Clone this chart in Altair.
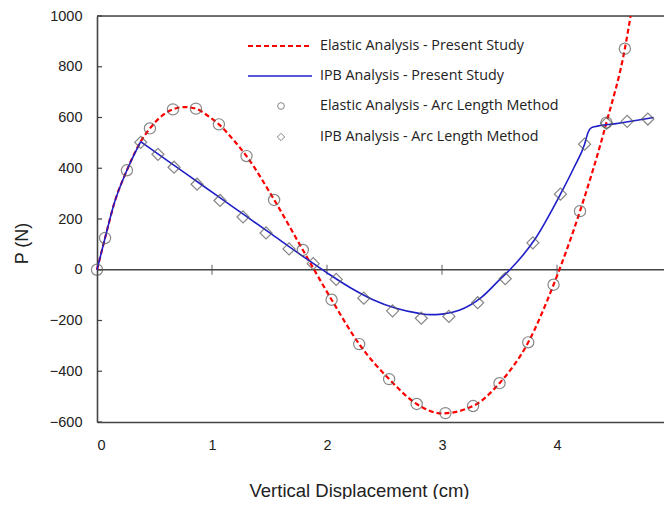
import altair as alt
import pandas as pd

# ---- data ----
# Elastic Analysis - Present Study (red dashed curve)
el_line_x = [0, 0.07, 0.15, 0.26, 0.38, 0.46, 0.56, 0.66, 0.76, 0.86, 0.96, 1.06, 1.18, 1.30, 1.54,
             1.79, 2.04, 2.28, 2.54, 2.78, 3.0, 3.27, 3.50, 3.75, 3.97, 4.20, 4.43, 4.59, 4.64]
el_line_p = [0, 125, 262, 392, 505, 557, 605, 632, 641, 635, 608, 573, 515, 448, 276,
             78, -118, -293, -431, -529, -566, -537, -447, -286, -59, 231, 580, 871, 1000]

# IPB Analysis - Present Study (blue curve), two pieces meeting at the kink
ipb_line_x = [0, 0.07, 0.15, 0.26, 0.38,
              0.38, 0.6, 0.9, 1.2, 1.5, 1.8, 2.0, 2.2, 2.4, 2.6, 2.8, 2.9, 3.0, 3.15, 3.34, 3.51,
              3.59, 3.8, 4.03, 4.15, 4.24, 4.27, 4.30, 4.35, 4.5, 4.84]
ipb_line_p = [0, 125, 262, 392, 505,
              505, 434, 338, 242, 146, 50, -12, -70, -118, -152, -172, -177, -175, -160, -110, -35,
              0, 115, 298, 405, 495, 541, 560, 566, 575, 600]
ipb_line_seg = ["a"] * 5 + ["b"] * 26

# Elastic Analysis - Arc Length Method (circles)
el_pts_x = [0, 0.07, 0.26, 0.46, 0.66, 0.86, 1.06, 1.30, 1.54, 1.79, 2.04, 2.28, 2.54, 2.78,
            3.03, 3.27, 3.50, 3.75, 3.97, 4.20, 4.43, 4.59]
el_pts_p = [0, 125, 392, 557, 632, 635, 573, 448, 275, 78, -118, -293, -431, -529,
            -565, -537, -447, -286, -59, 231, 580, 871]

# IPB Analysis - Arc Length Method (diamonds)
ipb_pts_x = [0.38, 0.53, 0.67, 0.87, 1.07, 1.27, 1.47, 1.67, 1.88, 2.08, 2.32, 2.57, 2.82,
             3.06, 3.31, 3.55, 3.79, 4.03, 4.24, 4.43, 4.61, 4.79]
ipb_pts_p = [502, 455, 404, 337, 273, 208, 145, 82, 24, -38, -112, -162, -191,
             -184, -130, -35, 106, 298, 495, 577, 585, 594]

x_ticks = [0, 1, 2, 3, 4]
x_inner_ticks = [1, 2, 3, 4]
y_ticks = [-600, -400, -200, 0, 200, 400, 600, 800, 1000]
legend_labels = ["Elastic Analysis - Present Study", "IPB Analysis - Present Study",
                 "Elastic Analysis - Arc Length Method", "IPB Analysis - Arc Length Method"]

# ---- styling ----
W, H = 567, 406
X_MAX = W / 115.0  # plot is cropped on the right just before x = 5
FONT = "Open Sans"
AX = "#444444"
MK = "#555555"
RED = "#ff0000"
BLUE = "#1f1fc8"

xs = alt.Scale(domain=[0, X_MAX], nice=False, zero=False)
ys = alt.Scale(domain=[-600, 1000], nice=False, zero=False)

el_line_df = pd.DataFrame({"x": el_line_x, "p": el_line_p})
ipb_line_df = pd.DataFrame({"x": ipb_line_x, "p": ipb_line_p, "seg": ipb_line_seg})
el_pts_df = pd.DataFrame({"x": el_pts_x, "p": el_pts_p})
ipb_pts_df = pd.DataFrame({"x": ipb_pts_x, "p": ipb_pts_p})
xt_df = pd.DataFrame({"x": x_inner_ticks})
yt_df = pd.DataFrame({"p": y_ticks})
one = pd.DataFrame({"a": [0]})

x_axis = alt.Axis(values=x_ticks, format="d", ticks=False, grid=False,
                  domain=True, domainColor=AX, domainWidth=1.6,
                  labelPadding=16, labelFontSize=14.5, labelColor="#222",
                  title="Vertical Displacement (cm)", titleFontSize=18.5,
                  titleFontWeight="normal", titleColor="#222",
                  titleX=262, titleY=74, titleBaseline="alphabetic")
y_axis = alt.Axis(values=y_ticks, format="d", ticks=False, grid=False,
                  domain=True, domainColor=AX, domainWidth=1.6,
                  labelPadding=15, labelFontSize=14.5, labelColor="#222",
                  title="P  (N)", titleFontSize=18, titleFontWeight="normal",
                  titleColor="#222", titleX=-75, titleY=227,
                  titleBaseline="middle", titleAlign="center")

el_line = alt.Chart(el_line_df).mark_line(
    color=RED, strokeWidth=2.2, strokeDash=[5, 3], interpolate="monotone"
).encode(
    x=alt.X("x:Q", scale=xs, axis=x_axis),
    y=alt.Y("p:Q", scale=ys, axis=y_axis),
    order="x:Q",
)

ipb_line = alt.Chart(ipb_line_df).mark_line(
    color=BLUE, strokeWidth=1.6, interpolate="monotone"
).encode(
    x=alt.X("x:Q", scale=xs),
    y=alt.Y("p:Q", scale=ys),
    detail="seg:N",
    order="x:Q",
)

el_pts = alt.Chart(el_pts_df).mark_point(
    shape="circle", filled=False, size=125, color=MK, strokeWidth=1.2
).encode(x=alt.X("x:Q", scale=xs), y=alt.Y("p:Q", scale=ys))

ipb_pts = alt.Chart(ipb_pts_df).mark_point(
    shape="diamond", filled=False, size=145, color=MK, strokeWidth=1.2
).encode(x=alt.X("x:Q", scale=xs), y=alt.Y("p:Q", scale=ys))

zero_line = alt.Chart(one).mark_rule(color=AX, strokeWidth=1.4).encode(
    y=alt.datum(0, scale=ys), x=alt.value(0), x2=alt.value(W)
)
top_line = alt.Chart(one).mark_rule(color=AX, strokeWidth=1.6).encode(
    y=alt.datum(1000, scale=ys), x=alt.value(0), x2=alt.value(W)
)
x_ticks_on_zero = alt.Chart(xt_df).mark_tick(
    orient="vertical", size=10, thickness=1.2, color=AX
).encode(x=alt.X("x:Q", scale=xs), y=alt.datum(0, scale=ys))
y_inside_ticks = alt.Chart(yt_df).mark_rule(color=AX, strokeWidth=1.2).encode(
    y=alt.Y("p:Q", scale=ys), x=alt.value(0), x2=alt.value(5)
)

# ---- legend (drawn by hand, top-left of the plot) ----
row_y = [30, 60, 90, 121]
legend_layers = []
legend_layers.append(
    alt.Chart(one).mark_rule(color=RED, strokeWidth=2.2, strokeDash=[5, 3]).encode(
        x=alt.value(151), x2=alt.value(215), y=alt.value(row_y[0]))
)
legend_layers.append(
    alt.Chart(one).mark_rule(color=BLUE, strokeWidth=1.6).encode(
        x=alt.value(151), x2=alt.value(215), y=alt.value(row_y[1]))
)
legend_layers.append(
    alt.Chart(one).mark_point(shape="circle", filled=False, size=45, color=MK, strokeWidth=1).encode(
        x=alt.value(184), y=alt.value(row_y[2]))
)
legend_layers.append(
    alt.Chart(one).mark_point(shape="diamond", filled=False, size=55, color=MK, strokeWidth=1).encode(
        x=alt.value(184), y=alt.value(row_y[3]))
)
for lab, yy in zip(legend_labels, row_y):
    legend_layers.append(
        alt.Chart(one).mark_text(align="left", baseline="middle", fontSize=14.3,
                                 font=FONT, color="#222").encode(
            x=alt.value(223), y=alt.value(yy), text=alt.value(lab))
    )

chart = alt.layer(
    zero_line, top_line, x_ticks_on_zero, y_inside_ticks,
    el_line, ipb_line, el_pts, ipb_pts, *legend_layers
).properties(
    width=W, height=H,
    padding={"left": 89, "top": 8, "right": 0, "bottom": 77},
    autosize=alt.AutoSizeParams(type="none"),
).configure_view(
    stroke=None
).configure_axis(
    labelFont=FONT, titleFont=FONT
).configure(
    background="white"
)

chart.save("out.html", embed_options={"renderer": "svg", "actions": False})
